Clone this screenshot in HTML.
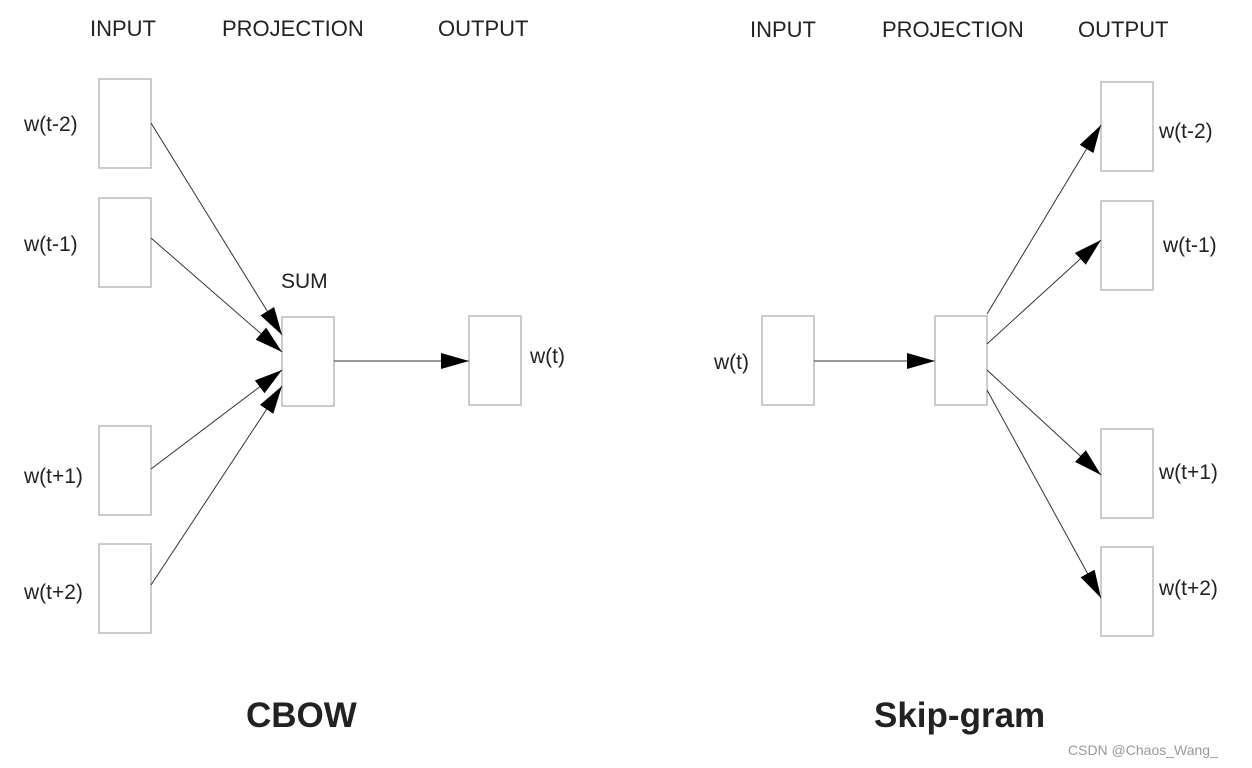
<!DOCTYPE html>
<html><head><meta charset="utf-8"><style>
html,body{margin:0;padding:0;background:#fff;}
svg{display:block;}
text{font-family:"Liberation Sans",Arial,sans-serif;fill:#222;}
</style></head><body>
<svg width="1252" height="768" viewBox="0 0 1252 768" xmlns="http://www.w3.org/2000/svg">
<defs>
<marker id="a" markerWidth="30" markerHeight="20" refX="28" refY="8" orient="auto" markerUnits="userSpaceOnUse">
<path d="M0,0 L28,8 L0,16 Z" fill="#000"/>
</marker>
</defs>
<g font-size="22">
<text x="90" y="36">INPUT</text>
<text x="222" y="36">PROJECTION</text>
<text x="438" y="36">OUTPUT</text>
<text x="750" y="37">INPUT</text>
<text x="882" y="37">PROJECTION</text>
<text x="1078" y="37">OUTPUT</text>
</g>
<g fill="#fff" stroke="#bbb" stroke-width="1.5">
<rect x="99" y="79" width="52" height="89"/>
<rect x="99" y="198" width="52" height="89"/>
<rect x="99" y="426" width="52" height="89"/>
<rect x="99" y="544" width="52" height="89"/>
<rect x="282" y="317" width="52" height="89"/>
<rect x="469" y="316" width="52" height="89"/>
<rect x="762" y="316" width="52" height="89"/>
<rect x="935" y="316" width="52" height="89"/>
<rect x="1101" y="82" width="52" height="89"/>
<rect x="1101" y="201" width="52" height="89"/>
<rect x="1101" y="429" width="52" height="89"/>
<rect x="1101" y="547" width="52" height="89"/>
</g>
<g stroke="#333" stroke-width="1" marker-end="url(#a)">
<line x1="151" y1="123" x2="282" y2="335"/>
<line x1="151" y1="238" x2="282" y2="352"/>
<line x1="151" y1="469" x2="282" y2="370"/>
<line x1="151" y1="585" x2="282" y2="386"/>
<line x1="334" y1="361" x2="469" y2="361"/>
<line x1="814" y1="361" x2="935" y2="361"/>
<line x1="987" y1="314" x2="1101" y2="125"/>
<line x1="987" y1="344" x2="1101" y2="240"/>
<line x1="987" y1="370" x2="1101" y2="475"/>
<line x1="987" y1="390" x2="1101" y2="598"/>
</g>
<g font-size="21">
<text x="24" y="131">w(t-2)</text>
<text x="24" y="251">w(t-1)</text>
<text x="24" y="483">w(t+1)</text>
<text x="24" y="599">w(t+2)</text>
<text x="281" y="288">SUM</text>
<text x="530" y="363">w(t)</text>
<text x="714" y="369">w(t)</text>
<text x="1159" y="138">w(t-2)</text>
<text x="1163" y="252">w(t-1)</text>
<text x="1159" y="479">w(t+1)</text>
<text x="1159" y="595">w(t+2)</text>
</g>
<text x="246" y="727" font-size="35" font-weight="bold">CBOW</text>
<text x="874" y="727" font-size="35" font-weight="bold">Skip-gram</text>
<text x="1068" y="755" font-size="14" style="fill:#999">CSDN @Chaos_Wang_</text>
</svg>
</body></html>
